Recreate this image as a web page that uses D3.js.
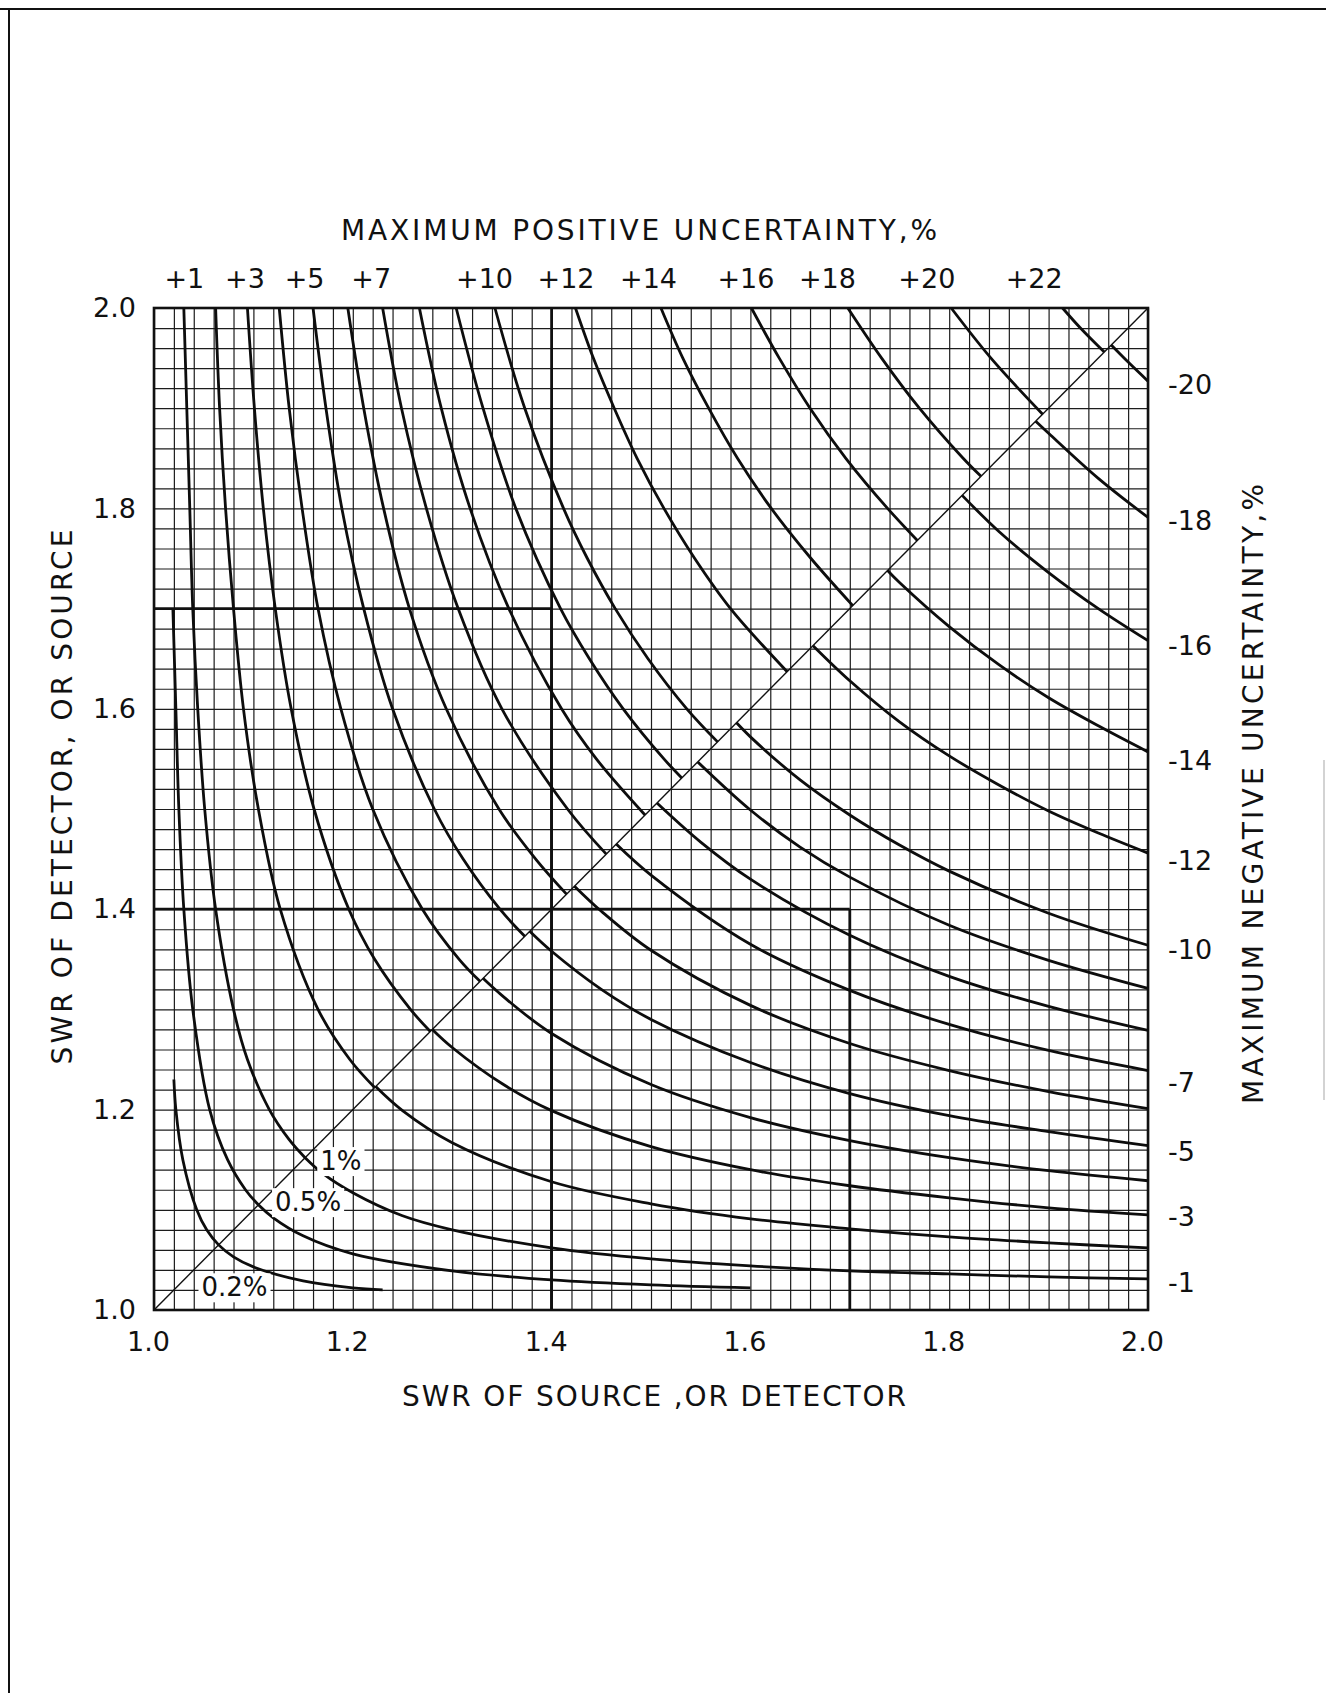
<!DOCTYPE html>
<html lang="en">
<head>
<meta charset="UTF-8">
<title>SWR mismatch uncertainty</title>
<style>
  body { margin:0; background:#fff; }
  svg text { font-family: "DejaVu Sans", sans-serif; fill:#111; }
</style>
</head>
<body>
<div class="chart"></div>
<script src="https://d3js.org/d3.v7.min.js"></script>
<script>
// curves above the diagonal: maximum positive uncertainty, %
// points are [SWR of source, SWR of detector]
const posValues = [1, 2, 3, 4, 5, 6, 7, 8, 9, 10, 12, 14, 16, 18, 20, 22];
const posCurves = [
  [[1.030,2],[1.033,1.9],[1.036,1.8],[1.039,1.7],[1.044,1.6],[1.051,1.5],[1.062,1.4],[1.080,1.3],[1.094,1.25],[1.116,1.2],[1.136,1.17],[1.152,1.152]],
  [[1.062,2],[1.066,1.9],[1.072,1.8],[1.080,1.7],[1.090,1.6],[1.105,1.5],[1.127,1.4],[1.165,1.3],[1.197,1.25],[1.222,1.222]],
  [[1.094,2],[1.101,1.9],[1.110,1.8],[1.122,1.7],[1.138,1.6],[1.161,1.5],[1.196,1.4],[1.222,1.35],[1.258,1.3],[1.278,1.278]],
  [[1.126,2],[1.136,1.9],[1.149,1.8],[1.165,1.7],[1.188,1.6],[1.220,1.5],[1.270,1.4],[1.307,1.35],[1.328,1.328]],
  [[1.160,2],[1.173,1.9],[1.189,1.8],[1.211,1.7],[1.240,1.6],[1.282,1.5],[1.311,1.45],[1.348,1.4],[1.373,1.373]],
  [[1.195,2],[1.211,1.9],[1.231,1.8],[1.257,1.7],[1.294,1.6],[1.347,1.5],[1.384,1.45],[1.415,1.415]],
  [[1.230,2],[1.249,1.9],[1.274,1.8],[1.306,1.7],[1.350,1.6],[1.416,1.5],[1.455,1.455]],
  [[1.267,2],[1.289,1.9],[1.318,1.8],[1.357,1.7],[1.410,1.6],[1.445,1.55],[1.494,1.494]],
  [[1.304,2],[1.331,1.9],[1.364,1.8],[1.409,1.7],[1.438,1.65],[1.472,1.6],[1.513,1.55],[1.531,1.531]],
  [[1.343,2],[1.373,1.9],[1.412,1.8],[1.436,1.75],[1.464,1.7],[1.497,1.65],[1.536,1.6],[1.567,1.567]],
  [[1.424,2],[1.442,1.95],[1.463,1.9],[1.486,1.85],[1.513,1.8],[1.544,1.75],[1.580,1.7],[1.637,1.637]],
  [[1.510,2],[1.532,1.95],[1.558,1.9],[1.587,1.85],[1.621,1.8],[1.661,1.75],[1.703,1.703]],
  [[1.601,2],[1.629,1.95],[1.660,1.9],[1.696,1.85],[1.738,1.8],[1.768,1.768]],
  [[1.698,2],[1.732,1.95],[1.770,1.9],[1.814,1.85],[1.832,1.832]],
  [[1.802,2],[1.842,1.95],[1.894,1.894]],
  [[1.914,2],[1.932,1.98],[1.956,1.956]]
];

// curves below the diagonal: maximum negative uncertainty, %
const negValues = [1, 2, 3, 4, 5, 6, 7, 8, 9, 10, 12, 14, 16, 18, 20];
const negCurves = [
  [[1.152,1.152],[1.17,1.136],[1.2,1.117],[1.25,1.094],[1.3,1.080],[1.4,1.062],[1.5,1.051],[1.6,1.044],[1.7,1.039],[1.8,1.036],[1.9,1.033],[2,1.031]],
  [[1.223,1.223],[1.25,1.199],[1.3,1.167],[1.4,1.128],[1.5,1.106],[1.6,1.091],[1.7,1.081],[1.8,1.073],[1.9,1.067],[2,1.062]],
  [[1.280,1.280],[1.3,1.262],[1.35,1.226],[1.4,1.199],[1.5,1.163],[1.6,1.140],[1.7,1.124],[1.8,1.112],[1.9,1.102],[2,1.095]],
  [[1.331,1.331],[1.35,1.314],[1.4,1.276],[1.5,1.225],[1.6,1.192],[1.7,1.169],[1.8,1.152],[1.9,1.139],[2,1.129]],
  [[1.378,1.378],[1.4,1.358],[1.45,1.320],[1.5,1.290],[1.6,1.247],[1.7,1.216],[1.8,1.194],[1.9,1.178],[2,1.164]],
  [[1.423,1.423],[1.45,1.398],[1.5,1.359],[1.6,1.304],[1.7,1.266],[1.8,1.239],[1.9,1.218],[2,1.201]],
  [[1.465,1.465],[1.5,1.434],[1.6,1.365],[1.7,1.319],[1.8,1.285],[1.9,1.259],[2,1.239]],
  [[1.506,1.506],[1.55,1.467],[1.6,1.430],[1.7,1.374],[1.8,1.333],[1.9,1.303],[2,1.279]],
  [[1.547,1.547],[1.6,1.499],[1.65,1.462],[1.7,1.432],[1.8,1.384],[1.9,1.349],[2,1.321]],
  [[1.586,1.586],[1.6,1.572],[1.65,1.529],[1.7,1.494],[1.75,1.464],[1.8,1.438],[1.9,1.396],[2,1.364]],
  [[1.663,1.663],[1.7,1.628],[1.75,1.587],[1.8,1.553],[1.85,1.524],[1.9,1.498],[1.95,1.476],[2,1.456]],
  [[1.738,1.738],[1.75,1.726],[1.8,1.682],[1.85,1.644],[1.9,1.611],[1.95,1.583],[2,1.557]],
  [[1.813,1.813],[1.85,1.777],[1.9,1.736],[1.95,1.700],[2,1.668]],
  [[1.887,1.887],[1.9,1.875],[1.95,1.830],[2,1.791]],
  [[1.963,1.963],[1.98,1.946],[2,1.927]]
];

// the two small curves that run straight through the diagonal
const smallValues = ["0.5%", "0.2%"];
const smallCurves = [
  [[1.019,1.7],[1.022,1.6],[1.025,1.5],[1.030,1.4],[1.039,1.3],[1.056,1.2],[1.074,1.15],[1.092,1.12],[1.105,1.105],[1.12,1.092],[1.15,1.074],[1.2,1.056],[1.3,1.039],[1.4,1.030],[1.5,1.025],[1.6,1.022]],
  [[1.020,1.23],[1.022,1.2],[1.029,1.15],[1.043,1.1],[1.053,1.08],[1.065,1.065],[1.08,1.053],[1.1,1.043],[1.15,1.029],[1.2,1.022],[1.23,1.020]]
];

// tick labels
const swrTicks = [1.0, 1.2, 1.4, 1.6, 1.8, 2.0];
const topTickValues = [1.030, 1.091, 1.151, 1.218, 1.332, 1.414, 1.497, 1.595, 1.677, 1.777, 1.885];
const topTickLabels = ["+1", "+3", "+5", "+7", "+10", "+12", "+14", "+16", "+18", "+20", "+22"];
const rightTickValues = [1.923, 1.788, 1.663, 1.548, 1.448, 1.359, 1.227, 1.158, 1.093, 1.027];
const rightTickLabels = ["-20", "-18", "-16", "-14", "-12", "-10", "-7", "-5", "-3", "-1"];

// worked examples drawn heavy: [source, detector]
const examples = [[1.4, 1.7], [1.7, 1.4]];

// inline labels near the diagonal: text and where it sits
const noteText = ["1%", "0.5%", "0.2%"];
const notePos = [[1.188, 1.149], [1.155, 1.108], [1.081, 1.023]];

const W = 1326, H = 1693;
const svg = d3.select('.chart').append('svg')
  .attr('width', W).attr('height', H);

// page edges of the scanned sheet
svg.append('line').attr('x1', 0).attr('x2', W).attr('y1', 9).attr('y2', 9)
  .attr('stroke', '#111').attr('stroke-width', 2);
svg.append('line').attr('x1', 9).attr('x2', 9).attr('y1', 9).attr('y2', H)
  .attr('stroke', '#111').attr('stroke-width', 2);
svg.append('line').attr('x1', 1324).attr('x2', 1324).attr('y1', 760).attr('y2', 1100)
  .attr('stroke', '#c4c4c4').attr('stroke-width', 1.5);

const x = d3.scaleLinear().domain([1, 2]).range([154, 1148]);
const y = d3.scaleLinear().domain([1, 2]).range([1310, 308]);
const plotW = x(2) - x(1), plotH = y(1) - y(2);

// fine grid every 0.02
const gridVals = d3.range(51).map(i => 1 + i * 0.02);
svg.append('g')
  .attr('transform', `translate(0,${y(1)})`)
  .call(d3.axisBottom(x).tickValues(gridVals).tickSize(-plotH).tickFormat(''))
  .call(g => g.select('.domain').remove())
  .selectAll('line').attr('stroke', '#1c1c1c').attr('stroke-width', 1.2);
svg.append('g')
  .attr('transform', `translate(${x(1)},0)`)
  .call(d3.axisLeft(y).tickValues(gridVals).tickSize(-plotW).tickFormat(''))
  .call(g => g.select('.domain').remove())
  .selectAll('line').attr('stroke', '#1c1c1c').attr('stroke-width', 1.2);

// diagonal
svg.append('line')
  .attr('x1', x(1)).attr('y1', y(1)).attr('x2', x(2)).attr('y2', y(2))
  .attr('stroke', '#111').attr('stroke-width', 1.4);

// heavy example lines; the 1.4 source line runs the full height
const ex = svg.append('g').attr('stroke', '#111').attr('stroke-width', 2.8);
ex.append('line').attr('x1', x(examples[0][0])).attr('x2', x(examples[0][0]))
  .attr('y1', y(1)).attr('y2', y(2));
examples.forEach(([a, b]) => {
  ex.append('line').attr('x1', x(a)).attr('x2', x(a)).attr('y1', y(1)).attr('y2', y(b));
  ex.append('line').attr('x1', x(1)).attr('x2', x(a)).attr('y1', y(b)).attr('y2', y(b));
});

// frame
svg.append('rect')
  .attr('x', x(1)).attr('y', y(2)).attr('width', plotW).attr('height', plotH)
  .attr('fill', 'none').attr('stroke', '#111').attr('stroke-width', 2.6);

const line = d3.line()
  .x(d => x(d[0])).y(d => y(d[1]))
  .curve(d3.curveCatmullRom.alpha(0.5));

const curves = svg.append('g')
  .attr('fill', 'none').attr('stroke', '#0d0d0d').attr('stroke-width', 2.8)
  .attr('stroke-linecap', 'butt');
curves.selectAll('.pos').data(posCurves).join('path')
  .attr('class', 'pos').attr('d', line);
curves.selectAll('.neg').data(negCurves).join('path')
  .attr('class', 'neg').attr('d', line);
curves.selectAll('.small').data(smallCurves).join('path')
  .attr('class', 'small').attr('d', line);

// inline labels with white knock-out
const notes = svg.append('g');
noteText.forEach((t, i) => {
  const g = notes.append('g');
  const txt = g.append('text')
    .attr('x', x(notePos[i][0])).attr('y', y(notePos[i][1]))
    .attr('text-anchor', 'middle').attr('dy', '0.36em')
    .attr('font-size', 26).text(t);
  const b = txt.node().getBBox();
  g.insert('rect', 'text')
    .attr('x', b.x - 3).attr('y', b.y + 1).attr('width', b.width + 6).attr('height', b.height - 1)
    .attr('fill', '#fff');
});

// axes
const fs = 27;
svg.append('g')
  .attr('transform', `translate(${x(1)},0)`)
  .call(d3.axisLeft(y).tickValues(swrTicks).tickFormat(d3.format('.1f')).tickSize(0).tickPadding(18))
  .call(g => g.select('.domain').remove())
  .selectAll('text').attr('font-size', fs).attr('font-family', 'DejaVu Sans');
svg.append('g')
  .attr('transform', `translate(0,${y(1)})`)
  .call(d3.axisBottom(x).tickValues(swrTicks).tickFormat(d3.format('.1f')).tickSize(0).tickPadding(22))
  .call(g => g.select('.domain').remove())
  .selectAll('text').attr('font-size', fs).attr('font-family', 'DejaVu Sans').attr('dx', -6);
svg.append('g')
  .attr('transform', `translate(0,${y(2)})`)
  .call(d3.axisTop(x).tickValues(topTickValues).tickFormat((d, i) => topTickLabels[i]).tickSize(0).tickPadding(20))
  .call(g => g.select('.domain').remove())
  .selectAll('text').attr('font-size', fs).attr('font-family', 'DejaVu Sans');
svg.append('g')
  .attr('transform', `translate(${x(2)},0)`)
  .call(d3.axisRight(y).tickValues(rightTickValues).tickFormat((d, i) => rightTickLabels[i]).tickSize(0).tickPadding(20))
  .call(g => g.select('.domain').remove())
  .selectAll('text').attr('font-size', fs).attr('font-family', 'DejaVu Sans');

// titles
function title(text, cx, cy, len, rot) {
  svg.append('text')
    .attr('transform', `translate(${cx},${cy}) rotate(${rot})`)
    .attr('text-anchor', 'middle').attr('dy', '0.36em')
    .attr('font-size', 28)
    .attr('textLength', len).attr('lengthAdjust', 'spacing')
    .text(text);
}
title('MAXIMUM  POSITIVE UNCERTAINTY,%', 639, 230, 596, 0);
title('SWR OF SOURCE ,OR DETECTOR', 654, 1396, 504, 0);
title('SWR OF DETECTOR, OR SOURCE', 62, 797, 535, -90);
title('MAXIMUM NEGATIVE UNCERTAINTY,%', 1253, 794, 620, -90);
</script>
</body>
</html>
